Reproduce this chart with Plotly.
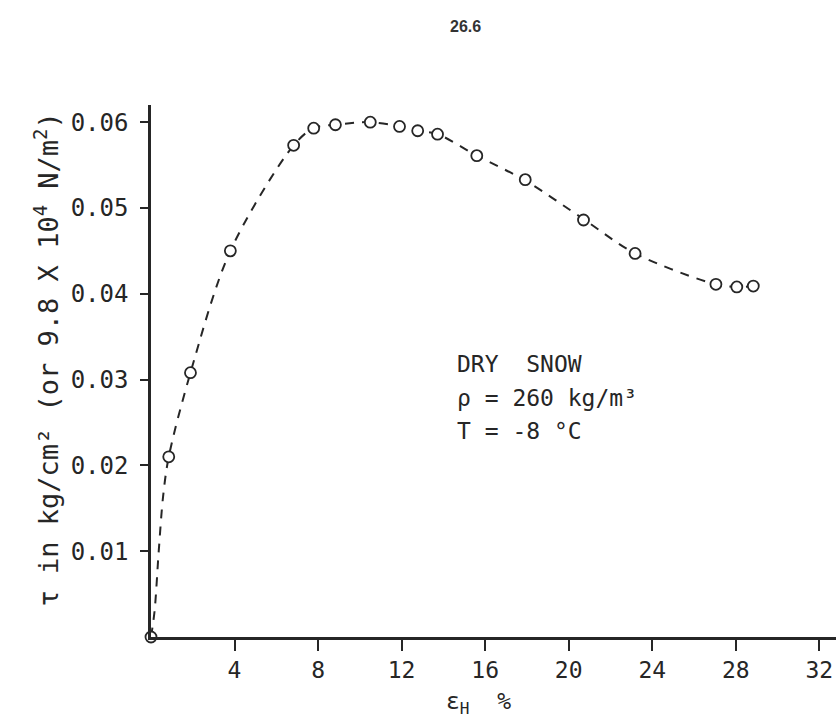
import plotly.graph_objects as go

# ---- data ----
strain_pct = [0, 0.85, 1.89, 3.80, 6.83, 7.79, 8.83, 10.50, 11.90, 12.77, 13.72,
              15.60, 17.92, 20.71, 23.18, 27.05, 28.05, 28.84]
stress = [0, 0.0210, 0.0308, 0.0450, 0.0573, 0.0593, 0.0597, 0.0600, 0.0595, 0.0590,
          0.0586, 0.0561, 0.0533, 0.0486, 0.0447, 0.0411, 0.0408, 0.0409]

# dashed fitted curve (read along the drawn dashes)
curve_x = [0, 0.17, 0.37, 0.58, 0.85, 1.89, 3.80, 6.83, 7.79, 8.83, 10.50, 11.90,
           12.77, 13.72, 15.60, 17.92, 20.71, 23.18, 27.05, 28.05, 28.84]
curve_y = [0, 0.0030, 0.0100, 0.0164, 0.0210, 0.0308, 0.0450, 0.0573, 0.0593, 0.0597,
           0.0600, 0.0595, 0.0590, 0.0586, 0.0561, 0.0532, 0.0487, 0.0447, 0.0411,
           0.0408, 0.0409]

x_ticks = [4, 8, 12, 16, 20, 24, 28, 32]
y_ticks = [0.01, 0.02, 0.03, 0.04, 0.05, 0.06]
y_tick_labels = ["0.01", "0.02", "0.03", "0.04", "0.05", "0.06"]

INK = "#262626"
FONT = "DejaVu Sans Mono"

fig = go.Figure()
fig.add_trace(go.Scatter(
    x=curve_x, y=curve_y, mode="lines",
    line=dict(color=INK, width=2, dash="9px,8px", shape="spline", smoothing=0.9),
    hoverinfo="skip", showlegend=False, cliponaxis=False))
fig.add_trace(go.Scatter(
    x=strain_pct, y=stress, mode="markers",
    marker=dict(symbol="circle", size=11, color="white",
                line=dict(color=INK, width=1.8)),
    showlegend=False, cliponaxis=False))

fig.update_layout(
    width=836, height=723,
    margin=dict(l=150.5, r=0, t=105, b=85.5, autoexpand=False),
    paper_bgcolor="white", plot_bgcolor="white",
    font=dict(family=FONT, color=INK, size=22),
    xaxis=dict(range=[0, 32.8], tickvals=x_ticks, ticks="outside", ticklen=11,
               tickwidth=1.5, tickcolor=INK, showline=True, linecolor=INK,
               linewidth=2.5, showgrid=False, zeroline=False, automargin=False,
               tickfont=dict(family=FONT, size=23, color=INK)),
    yaxis=dict(range=[0, 0.062], tickvals=y_ticks, ticktext=y_tick_labels,
               ticks="outside", ticklen=8, tickwidth=2, tickcolor=INK,
               ticklabelstandoff=7,
               showline=True, linecolor=INK, linewidth=2.5, showgrid=False,
               zeroline=False, automargin=False,
               tickfont=dict(family=FONT, size=24, color=INK)),
    annotations=[
        dict(text="<b>26.6</b>", xref="paper", yref="paper", x=0.459, y=1.1476,
             xanchor="center", yanchor="middle",
             showarrow=False, font=dict(family="Liberation Sans", size=16, color="#333")),
        dict(text="τ in kg/cm² (or 9.8 X 10<sup>4</sup> N/m<sup>2</sup>)",
             xref="paper", yref="paper", x=-0.153, y=0.522, textangle=-90,
             xanchor="center", yanchor="middle",
             showarrow=False, font=dict(family=FONT, size=27, color=INK)),
        dict(text="ε<sub>H</sub>  %", xref="x", yref="paper", x=15.67, y=-0.124,
             xanchor="center", yanchor="middle",
             showarrow=False, font=dict(family=FONT, size=23, color=INK)),
        dict(text="DRY  SNOW", xref="x", yref="y", x=14.57, y=0.0318,
             xanchor="left", yanchor="middle",
             showarrow=False, font=dict(family=FONT, size=23, color=INK)),
        dict(text="ρ = 260 kg/m³", xref="x", yref="y", x=14.57, y=0.0279,
             xanchor="left", yanchor="middle",
             showarrow=False, font=dict(family=FONT, size=23, color=INK)),
        dict(text="T = -8 °C", xref="x", yref="y", x=14.57, y=0.0240,
             xanchor="left", yanchor="middle",
             showarrow=False, font=dict(family=FONT, size=23, color=INK)),
    ],
)

# remove the default page margin so the figure fills the window exactly
fig.write_html(
    "out.html",
    config={"displayModeBar": False},
    post_script="document.body.style.margin='0px';"
                "document.body.style.overflow='hidden';"
                "document.documentElement.style.overflow='hidden';",
)
